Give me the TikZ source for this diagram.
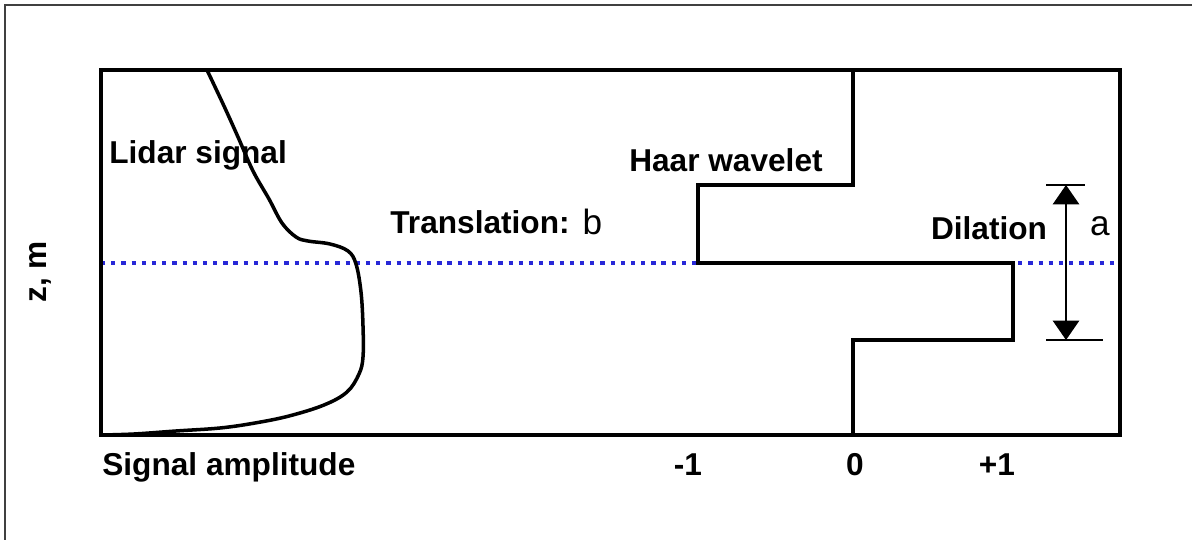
\documentclass[tikz,border=0pt]{standalone}
\usepackage{fontspec}
\setmainfont{Liberation Sans}
\usepackage{xcolor}
\usetikzlibrary{arrows.meta,positioning}

\definecolor{dotblue}{RGB}{40,40,215}

\begin{document}
\begin{tikzpicture}[
    x=0.02cm, y=-0.02cm,
    lbl/.style={font=\fontsize{18}{21}\selectfont\bfseries, inner sep=0pt},
    thin lbl/.style={font=\fontsize{20}{23}\selectfont, inner sep=0pt},
    heavy/.style={line width=2pt},
    level/.style={dotblue, line width=2pt, dash pattern=on 2.4pt off 3.4pt}
]
    \useasboundingbox (0,0) rectangle (1192,540);
    % frame of the figure (only left and top edges show)
    \draw [line width=1.1pt, black!75] (5,540) -- (5,5) -- (1192,5);

    % height of the layer
    \draw [level] (101,263) -- (1120,263);

    % plot box
    \draw [heavy] (101,70) rectangle (1120,435);

    % lidar profile
    \draw [heavy, line join=round] plot [smooth, tension=0.6] coordinates {
        (207,70) (224,106) (238,137) (253,171) (269,199) (282,223) (296,237)
        (308,241) (330,244) (348,251) (356,264) (361,292) (363,326) (363,357)
        (359,374) (347,392) (324,405) (289,416) (255,423) (220,428) (176,431)
        (134,434) (101,435)};

    % Haar wavelet
    \draw [heavy] (853,70) -- (853,185) -- (698,185) -- (698,263)
        -- (1013,263) -- (1013,340) -- (853,340) -- (853,435);

    % dilation marker
    \coordinate (dtop) at (1066,185);
    \coordinate (dbot) at (1066,340);
    \draw [line width=1.3pt] (1046,185) -- (1085,185);
    \draw [line width=1.3pt] (1046,340) -- (1103,340);
    \draw [{Triangle[width=15pt,length=11pt]}-{Triangle[width=15pt,length=11pt]}, line width=0.8pt]
        (dtop) -- (dbot);

    % labels
    \node (lidar) [lbl, anchor=west] at (109,155) {Lidar signal};
    \node (haar) [lbl] at (726,160) {Haar wavelet};
    \node (trans) [lbl] at (480,222) {Translation:};
    \node (bval) [thin lbl, right=7pt of trans] {b};
    \node (dil) [lbl] at (989,228) {Dilation};
    \node (aval) [thin lbl] at (1100,226) {a};
    \node (zaxis) [lbl, rotate=90] at (40,272) {z, m};
    \node (amp) [lbl, anchor=west] at (102,467) {Signal amplitude};
    \node (mone) [lbl] at (688,465) {-1};
    \node (zero) [lbl] at (855,465) {0};
    \node (pone) [lbl] at (997,465) {+1};
\end{tikzpicture}
\end{document}
